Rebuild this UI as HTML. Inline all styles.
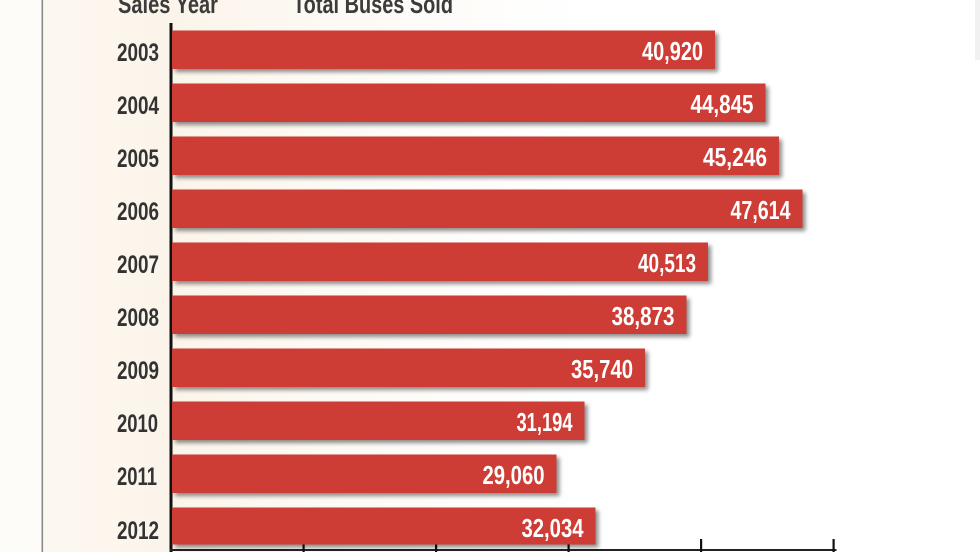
<!DOCTYPE html>
<html>
<head>
<meta charset="utf-8">
<style>
html,body{margin:0;padding:0;background:#fff;}
body{width:980px;height:552px;overflow:hidden;}
svg{display:block;}
.yr{font-family:"Liberation Sans Narrow","Liberation Sans",sans-serif;font-size:25px;font-weight:bold;fill:#333;}
.val{font-family:"Liberation Sans Narrow","Liberation Sans",sans-serif;font-size:26px;font-weight:bold;fill:#fff;}
.hd{font-family:"Liberation Sans Narrow","Liberation Sans",sans-serif;font-size:26px;font-weight:bold;fill:#3c3c3c;}
</style>
</head>
<body>
<svg width="980" height="552" viewBox="0 0 980 552" xmlns="http://www.w3.org/2000/svg">
  <defs>
    <linearGradient id="bg" x1="0" y1="0" x2="1" y2="0">
      <stop offset="0" stop-color="#fdf9f3"/>
      <stop offset="0.17" stop-color="#fbf4ea"/>
      <stop offset="0.35" stop-color="#fdfaf5"/>
      <stop offset="0.6" stop-color="#ffffff"/>
      <stop offset="1" stop-color="#ffffff"/>
    </linearGradient>
    <filter id="sh" x="-5%" y="-20%" width="115%" height="160%">
      <feGaussianBlur in="SourceAlpha" stdDeviation="2.2"/>
      <feOffset dx="3" dy="3" result="b"/>
      <feComponentTransfer><feFuncA type="linear" slope="0.45"/></feComponentTransfer>
      <feMerge><feMergeNode/><feMergeNode in="SourceGraphic"/></feMerge>
    </filter>
  </defs>
  <rect x="0" y="0" width="980" height="552" fill="url(#bg)"/>
  <rect x="0" y="0" width="42" height="552" fill="#fefcf9"/>
  <rect x="41.5" y="0" width="1.6" height="552" fill="#8a8a8a"/>
  <rect x="975" y="0" width="5" height="60" fill="#f1f1f1"/>

  <!-- header -->
  <text class="hd" x="118" y="13" textLength="100" lengthAdjust="spacingAndGlyphs">Sales Year</text>
  <text class="hd" x="293" y="13" textLength="160" lengthAdjust="spacingAndGlyphs">Total Buses Sold</text>

  <!-- axes -->
  <rect x="169.5" y="23" width="3" height="529" fill="#111"/>
  <rect x="169.5" y="549" width="667" height="2" fill="#222"/>
  <rect x="302.5" y="539" width="2.2" height="13" fill="#111"/>
  <rect x="435" y="539" width="2.2" height="13" fill="#111"/>
  <rect x="567.5" y="539" width="2.2" height="13" fill="#111"/>
  <rect x="700" y="539" width="2.2" height="13" fill="#111"/>
  <rect x="832.5" y="539" width="2.2" height="13" fill="#111"/>

  <!-- bars -->
  <g filter="url(#sh)" fill="#cd3d34">
    <rect x="172" y="30.5" width="543" height="38.5"/>
    <rect x="172" y="83.5" width="593.5" height="38.5"/>
    <rect x="172" y="136.5" width="607" height="38.5"/>
    <rect x="172" y="189.5" width="630.5" height="38.5"/>
    <rect x="172" y="242.5" width="536" height="38.5"/>
    <rect x="172" y="295.5" width="514.5" height="38.5"/>
    <rect x="172" y="348.5" width="473" height="38.5"/>
    <rect x="172" y="401.5" width="412.5" height="38.5"/>
    <rect x="172" y="454.5" width="384.5" height="38.5"/>
    <rect x="172" y="507.5" width="423.5" height="37"/>
  </g>

  <!-- year labels -->
  <text class="yr" x="117" y="61" textLength="42" lengthAdjust="spacingAndGlyphs">2003</text>
  <text class="yr" x="117" y="114" textLength="42" lengthAdjust="spacingAndGlyphs">2004</text>
  <text class="yr" x="117" y="167" textLength="42" lengthAdjust="spacingAndGlyphs">2005</text>
  <text class="yr" x="117" y="220" textLength="42" lengthAdjust="spacingAndGlyphs">2006</text>
  <text class="yr" x="117" y="273" textLength="42" lengthAdjust="spacingAndGlyphs">2007</text>
  <text class="yr" x="117" y="326" textLength="42" lengthAdjust="spacingAndGlyphs">2008</text>
  <text class="yr" x="117" y="379" textLength="42" lengthAdjust="spacingAndGlyphs">2009</text>
  <text class="yr" x="117" y="432" textLength="41" lengthAdjust="spacingAndGlyphs">2010</text>
  <text class="yr" x="117" y="485" textLength="40" lengthAdjust="spacingAndGlyphs">2011</text>
  <text class="yr" x="117" y="539" textLength="42" lengthAdjust="spacingAndGlyphs">2012</text>

  <!-- values -->
  <text class="val" x="703" y="60" text-anchor="end" textLength="61" lengthAdjust="spacingAndGlyphs">40,920</text>
  <text class="val" x="753.5" y="113" text-anchor="end" textLength="63" lengthAdjust="spacingAndGlyphs">44,845</text>
  <text class="val" x="767" y="166" text-anchor="end" textLength="64" lengthAdjust="spacingAndGlyphs">45,246</text>
  <text class="val" x="790.5" y="219" text-anchor="end" textLength="60" lengthAdjust="spacingAndGlyphs">47,614</text>
  <text class="val" x="696" y="272" text-anchor="end" textLength="58" lengthAdjust="spacingAndGlyphs">40,513</text>
  <text class="val" x="674.5" y="325" text-anchor="end" textLength="63" lengthAdjust="spacingAndGlyphs">38,873</text>
  <text class="val" x="633" y="378" text-anchor="end" textLength="62" lengthAdjust="spacingAndGlyphs">35,740</text>
  <text class="val" x="572.5" y="431" text-anchor="end" textLength="56" lengthAdjust="spacingAndGlyphs">31,194</text>
  <text class="val" x="544.5" y="484" text-anchor="end" textLength="62" lengthAdjust="spacingAndGlyphs">29,060</text>
  <text class="val" x="583.5" y="537" text-anchor="end" textLength="62" lengthAdjust="spacingAndGlyphs">32,034</text>
</svg>
</body>
</html>
